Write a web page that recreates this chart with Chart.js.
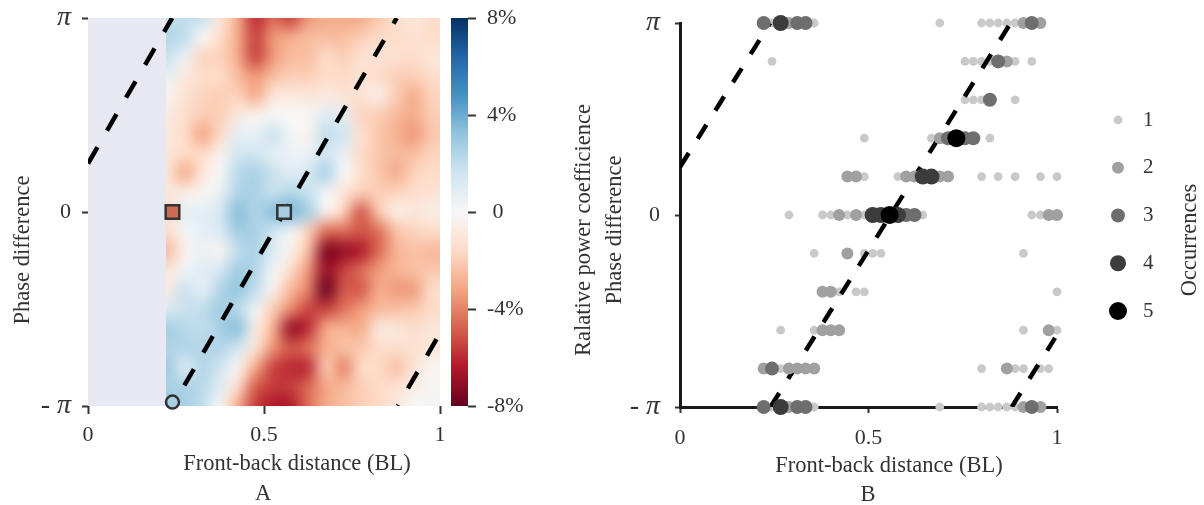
<!DOCTYPE html>
<html>
<head>
  <meta charset="UTF-8" />
  <title>Phase difference and front-back distance</title>
  <script src="https://cdn.jsdelivr.net/npm/chart.js"></script>
  <style>
    body { margin: 0; background: #fff; }
    #wrap { position: relative; width: 1204px; height: 505px; overflow: hidden; filter: blur(0.5px); }
    canvas { position: absolute; left: 0; top: 0; }
  </style>
</head>
<body>
<div id="wrap">
  <canvas id="heat" width="1204" height="505"></canvas>
  <canvas id="bar" width="1204" height="505"></canvas>
  <canvas id="dots" width="1204" height="505"></canvas>
  <canvas id="key" width="1204" height="505"></canvas>
</div>
<script>
// heatmap, rows from +pi to -pi (phase in units of pi)
const heatX = [0.225, 0.275, 0.325, 0.375, 0.425, 0.475, 0.525, 0.575, 0.625, 0.675, 0.725, 0.775, 0.825, 0.875, 0.925, 0.975];
const heatPhase = [1, 0.9, 0.8, 0.7, 0.6, 0.5, 0.4, 0.3, 0.2, 0.1, 0, -0.1, -0.2, -0.3, -0.4, -0.5, -0.6, -0.7, -0.8, -0.9, -1];
const heatValues = [
  [2, 2, 1.8, -1, -3, -6, -4.5, -5.5, -3.5, -3, -3, -3, -2.2, -1.5, -1, -1.5],
  [2.4, 2, 0, -1.5, -3, -5.5, -3.5, -3, -2.5, -2.5, -2.5, -2, -1.5, -1.5, -1.2, -1.5],
  [1.8, 0.5, -1.8, -1.8, -3, -5.5, -3.5, -2.5, -2.5, -1.5, -2, -1.2, -1.2, -1.2, -1.5, -1],
  [0.6, -0.8, -1.5, -1.5, -2.5, -3.5, -2.5, -2, -2, -1.5, -1.6, -1.2, -1.5, -2, -2, -1.5],
  [-0.3, -1.2, -1.8, -2, -1.8, -3, -1, -0.8, -1, -0.8, -1.2, -1.2, -0.5, -2, -3, -1.8],
  [-0.8, -1.4, -2, -2, -0.8, -0.3, -0.1, 0, -0.1, 1, 0.8, -1.8, -2, -2.6, -3, -2],
  [-1, -1.5, -3.2, -1.6, 0.8, 0.6, 1.8, 0.2, -0.3, 2, 1.6, -1.2, -2.2, -2.8, -3.5, -2.2],
  [-1, -1.6, -1.6, -0.4, 1.5, 1.6, 0.8, 0.5, 0.5, 1.6, 0.6, -1.6, -2.2, -2.6, -2.5, -1.8],
  [-1, -3, -1, 0, 2.2, 2.6, 1.8, 1, 1.4, 2.6, 0, -1.4, -2.2, -3, -1.8, -1.5],
  [-1, -0.5, -0.2, 0.6, 2.4, 2.6, 1.8, 2.4, 1.8, 0.3, -1, -2, -2, -1.8, -1.5, -1.2],
  [-1.5, 0.8, 0.8, 1.4, 3.4, 2.4, 3.4, 3.6, 2.8, -0.3, -1.8, -5, -2.2, -0.4, -1, -0.6],
  [-1.5, 0.2, 0.8, 1.2, 2.8, 2.6, 1.6, 0.4, -1.8, -4.5, -4.5, -5, -4.5, -2.4, -1.8, -1.6],
  [-2.6, -0.4, 0.6, -0.2, 2, 2.6, 1.2, -0.3, -2.4, -7.5, -7, -6.5, -4.6, -2.8, -2.4, -2.6],
  [-1, 0.3, 1, 1.4, 2.8, 2.4, 0.3, -1.4, -3.5, -7, -5.5, -4.5, -3.4, -2.8, -2.4, -2.2],
  [-0.8, 1.8, 0.6, 2.4, 3.2, 2, -0.3, -2.6, -4, -8, -5, -5, -3, -3.4, -3.4, -1.4],
  [1.2, 1.8, 2, 2.8, 2.2, 0.4, -2, -3.8, -5.4, -5.5, -4.4, -3.4, -2.6, -2.4, -2.2, -1.6],
  [2.8, 2.2, 2, 2.6, 3.4, -0.6, -2.8, -7, -6, -3, -2.8, -3, -0.8, -1, -1.4, -1],
  [2.4, 2.4, 2.4, 2.4, 1.6, -1, -3.6, -5, -4.4, -3, -2.4, -2.2, -1.5, -1.4, -1.2, -1],
  [3, 1, 2.4, 1.6, -0.2, -3, -5.4, -6, -6, -2, -4, -1.6, -1.6, -2.4, -1.2, -0.2],
  [2.6, 2.6, 2.2, 1, -1.4, -4.8, -5.6, -5.6, -4.6, -3.2, -2.6, -2, -1.6, -1.2, -0.6, -0.2],
  [3, 2.6, 2, 0, -3, -5.6, -6.5, -6.5, -4.5, -3, -2.5, -2, -1.6, -1, 0, 0.3]
];
const noDataEnd = 0.222;

// colour scale of the bar, from -8% to 8%
const barValues = [-8, -6.4, -4.8, -3.2, -1.6, 0, 1.6, 3.2, 4.8, 6.4, 8];
const barColors = ['#67001f', '#b2182b', '#d6604d', '#f4a582', '#fddbc7', '#f7f7f7', '#d1e5f0', '#92c5de', '#4393c3', '#2166ac', '#053061'];

// dashed lines, phase in units of pi
const lineLeftX = [0, 0.239], lineLeftY = [0.25, 1];
const lineMidX = [0.24, 0.877], lineMidY = [-1, 1];
const lineRightX = [0.88, 0.995], lineRightY = [-1, -0.64];

// marked cases in panel A: [x, phase]
const redSquare = [[0.24, 0]];
const blueSquare = [[0.557, 0]];
const blueCircle = [[0.24, -0.98]];

// panel B, [x, phase] per number of occurrences
const occ1 = [
  [0.244,1],[0.356,1],[0.689,1],[0.8,1],[0.822,1],[0.844,1],[0.867,1],[0.889,1],
  [0.244,0.8],[0.756,0.8],[0.778,0.8],[0.8,0.8],[0.822,0.8],[0.889,0.8],[0.933,0.8],
  [0.756,0.6],[0.778,0.6],[0.8,0.6],[0.889,0.6],
  [0.489,0.4],[0.667,0.4],[0.822,0.4],
  [0.489,0.2],[0.578,0.2],[0.8,0.2],[0.844,0.2],[0.889,0.2],[0.956,0.2],[1,0.2],
  [0.289,0],[0.378,0],[0.4,0],[0.444,0],[0.489,0],[0.644,0],[0.933,0],[0.956,0],
  [0.356,-0.2],[0.489,-0.2],[0.511,-0.2],[0.533,-0.2],[0.911,-0.2],
  [0.422,-0.4],[0.467,-0.4],[0.489,-0.4],[1,-0.4],
  [0.267,-0.6],[0.356,-0.6],[0.911,-0.6],[1,-0.6],
  [0.267,-0.8],[0.8,-0.8],[0.889,-0.8],[0.911,-0.8],[0.956,-0.8],[0.978,-0.8],
  [0.244,-1],[0.356,-1],[0.689,-1],[0.8,-1],[0.822,-1],[0.844,-1],[0.867,-1],[0.889,-1]
];
const occ2 = [
  [0.289,1],[0.911,1],[0.956,1],
  [0.867,0.8],
  [0.689,0.4],
  [0.444,0.2],[0.467,0.2],[0.6,0.2],[0.622,0.2],[0.689,0.2],[0.711,0.2],
  [0.422,0],[0.467,0],[0.978,0],[1,0],
  [0.444,-0.2],
  [0.378,-0.4],[0.4,-0.4],
  [0.378,-0.6],[0.4,-0.6],[0.422,-0.6],[0.978,-0.6],
  [0.222,-0.8],[0.289,-0.8],[0.311,-0.8],[0.333,-0.8],[0.356,-0.8],[0.867,-0.8],
  [0.289,-1],[0.911,-1],[0.956,-1]
];
const occ3 = [
  [0.222,1],[0.311,1],[0.333,1],[0.933,1],
  [0.844,0.8],
  [0.822,0.6],
  [0.711,0.4],[0.756,0.4],[0.778,0.4],
  [0.6,0],[0.622,0],
  [0.244,-0.8],
  [0.222,-1],[0.311,-1],[0.333,-1],[0.933,-1]
];
const occ4 = [[0.267,1],[0.644,0.2],[0.667,0.2],[0.511,0],[0.533,0],[0.578,0],[0.267,-1]];
const occ5 = [[0.733,0.4],[0.556,0]];

const occLabels = [1, 2, 3, 4, 5];
const occColors = ['#c9c9c9', '#a0a0a0', '#6e6e6e', '#3c3c3c', '#000000'];
const occRadius = [4.4, 6, 7, 8, 9];

const phaseTicks = { '-1': '- π', '0': '0', '1': 'π' };

const serif = '"Liberation Serif", serif';
const textColor = '#333';

function pts(xs, ys) { return xs.map((x, i) => ({ x: x, y: ys[i] })); }
function pairs(list) { return list.map(p => ({ x: p[0], y: p[1] })); }

function phaseFont(ctx) {
  if (ctx.tick && ctx.tick.value !== 0) return { family: serif, size: 28, style: 'italic' };
  return { family: serif, size: 22 };
}

// axis captions and panel letters sit off-centre in the reference, so they are placed by hand
const freeText = {
  id: 'freeText',
  afterDraw(chart, args, opts) {
    const c = chart.ctx;
    (opts.items || []).forEach(t => {
      c.save();
      c.translate(t.x, t.y);
      if (t.up) c.rotate(-Math.PI / 2);
      c.font = '22.5px ' + serif;
      c.fillStyle = textColor;
      c.textAlign = 'center';
      c.textBaseline = 'middle';
      c.fillText(t.text, 0, 0);
      c.restore();
    });
  }
};

function barColor(v) {
  const t = Math.max(0, Math.min(barValues.length - 1.0001, (v + 8) / 1.6));
  const i = Math.floor(t), f = t - i;
  const a = barColors[i], b = barColors[i + 1];
  return [1, 3, 5].map(p => {
    const from = parseInt(a.substr(p, 2), 16), to = parseInt(b.substr(p, 2), 16);
    return Math.round(from + (to - from) * f);
  });
}

const heatLayer = {
  id: 'heatLayer',
  beforeDatasetsDraw(chart) {
    const c = chart.ctx, xs = chart.scales.x, ys = chart.scales.y, area = chart.chartArea;
    const rows = heatPhase.length, cols = heatX.length;
    const off = document.createElement('canvas');
    off.width = cols;
    off.height = rows;
    const octx = off.getContext('2d');
    const img = octx.createImageData(cols, rows);
    heatValues.forEach((row, r) => row.forEach((v, k) => {
      const rgb = barColor(v), o = (r * cols + k) * 4;
      img.data[o] = rgb[0];
      img.data[o + 1] = rgb[1];
      img.data[o + 2] = rgb[2];
      img.data[o + 3] = 255;
    }));
    octx.putImageData(img, 0, 0);

    const dx = (heatX[1] - heatX[0]) / 2, dy = (heatPhase[0] - heatPhase[1]) / 2;
    const left = xs.getPixelForValue(heatX[0] - dx), right = xs.getPixelForValue(heatX[cols - 1] + dx);
    const top = ys.getPixelForValue(heatPhase[0] + dy), bottom = ys.getPixelForValue(heatPhase[rows - 1] - dy);
    const edge = xs.getPixelForValue(noDataEnd);

    c.save();
    c.fillStyle = '#e8e8f3';
    c.fillRect(area.left, area.top, edge - area.left, area.bottom - area.top);
    c.beginPath();
    c.rect(edge, area.top, area.right - edge, area.bottom - area.top);
    c.clip();
    c.imageSmoothingEnabled = true;
    c.imageSmoothingQuality = 'high';
    // sharp copy first so the soft one does not fade out at the edges
    c.drawImage(off, left, top, right - left, bottom - top);
    c.filter = 'blur(3px)';
    c.drawImage(off, left, top, right - left, bottom - top);
    c.restore();
  }
};

const barLayer = {
  id: 'barLayer',
  beforeDatasetsDraw(chart) {
    const c = chart.ctx, ys = chart.scales.y, area = chart.chartArea;
    const g = c.createLinearGradient(0, ys.getPixelForValue(-8), 0, ys.getPixelForValue(8));
    barValues.forEach((v, i) => g.addColorStop((v + 8) / 16, barColors[i]));
    c.fillStyle = g;
    c.fillRect(area.left, area.top, area.right - area.left, area.bottom - area.top);
  }
};

function dashed(xs, ys, dash, offset, order) {
  return {
    data: pts(xs, ys), showLine: true, pointRadius: 0, borderColor: '#000', borderWidth: 4.5,
    borderDash: dash, borderDashOffset: offset, borderCapStyle: 'butt', order: order
  };
}
function marker(list, style, radius, fill) {
  return {
    data: pairs(list), pointStyle: style, pointRadius: radius, pointBackgroundColor: fill,
    pointBorderColor: '#333', pointBorderWidth: 2.5, clip: false, order: 0
  };
}

function xAxis(height, tickLen, pad) {
  return {
    type: 'linear', min: 0, max: 1,
    afterFit: s => { s.height = height; s.paddingLeft = 0; s.paddingRight = 0; },
    border: { display: false },
    grid: { drawOnChartArea: false, tickLength: tickLen, tickWidth: 2, tickColor: '#333' },
    ticks: {
      stepSize: 0.5, color: textColor, padding: pad, maxRotation: 0,
      font: { family: serif, size: 22 },
      callback: v => String(v)
    }
  };
}
function yAxis(width, tickLen, pad) {
  return {
    type: 'linear', min: -1, max: 1,
    afterFit: s => { s.width = width; s.paddingTop = 0; s.paddingBottom = 0; },
    border: { display: false },
    grid: { drawOnChartArea: false, tickLength: tickLen, tickWidth: 2, tickColor: '#333' },
    ticks: {
      stepSize: 1, color: textColor, padding: pad, font: phaseFont,
      callback: v => phaseTicks[String(v)]
    }
  };
}

new Chart(document.getElementById('heat'), {
  type: 'scatter',
  data: {
    datasets: [
      dashed(lineLeftX, lineLeftY, [19, 19], 0, 1),
      dashed(lineMidX, lineMidY, [19, 19], 14.3, 1),
      dashed(lineRightX, lineRightY, [19, 19], 17.7, 1),
      marker(redSquare, 'rect', 9.6, '#cf6a53'),
      marker(blueSquare, 'rect', 9.6, '#a9cde2'),
      marker(blueCircle, 'circle', 6.5, '#a9cfe3')
    ]
  },
  options: {
    responsive: false, animation: false, events: [],
    layout: { padding: { left: 0, top: 18, right: 1204 - 440, bottom: 0 } },
    scales: { x: xAxis(505 - 406, 8, 8), y: yAxis(88, 6, 11) },
    plugins: {
      legend: { display: false }, tooltip: { enabled: false },
      freeText: { items: [
        { text: 'Phase difference', x: 23, y: 250, up: true },
        { text: 'Front-back distance (BL)', x: 297, y: 464 },
        { text: 'A', x: 263, y: 494 }
      ] }
    }
  },
  plugins: [heatLayer, freeText]
});

new Chart(document.getElementById('bar'), {
  type: 'scatter',
  data: { datasets: [] },
  options: {
    responsive: false, animation: false, events: [],
    layout: { padding: { left: 451, top: 18, right: 0, bottom: 505 - 406 } },
    scales: {
      x: { display: false, min: 0, max: 1 },
      y: {
        type: 'linear', position: 'right', min: -8, max: 8,
        afterFit: s => { s.width = 1204 - 468; s.paddingTop = 0; s.paddingBottom = 0; },
        border: { display: false },
        grid: { drawOnChartArea: false, tickLength: 8, tickWidth: 2, tickColor: '#333' },
        ticks: {
          stepSize: 4, color: textColor, padding: 11, crossAlign: 'near',
          font: { family: serif, size: 22 },
          callback: v => v === 0 ? ' 0' : v + '%'
        }
      }
    },
    plugins: { legend: { display: false }, tooltip: { enabled: false } }
  },
  plugins: [barLayer]
});

function occSet(list, i, order) {
  return {
    data: pairs(list), pointRadius: occRadius[i], pointBackgroundColor: occColors[i],
    pointBorderWidth: 0, clip: false, order: order
  };
}
const yB = yAxis(680, 5, 15);
yB.border = { display: true, color: '#1a1a1a', width: 3 };
const xB = xAxis(505 - 407, 6, 12);
xB.border = { display: true, color: '#1a1a1a', width: 3 };

new Chart(document.getElementById('dots'), {
  type: 'scatter',
  data: {
    datasets: [
      occSet(occ1, 0, 6),
      dashed(lineLeftX, lineLeftY, [16.5, 16.8], 0, 5),
      dashed(lineMidX, lineMidY, [16.5, 16.8], 0, 5),
      dashed(lineRightX, lineRightY, [16.5, 16.8], 0, 5),
      occSet(occ2, 1, 4),
      occSet(occ3, 2, 3),
      occSet(occ4, 3, 2),
      occSet(occ5, 4, 1)
    ]
  },
  options: {
    responsive: false, animation: false, events: [],
    layout: { padding: { left: 0, top: 23, right: 1204 - 1057, bottom: 0 } },
    scales: { x: xB, y: yB },
    plugins: {
      legend: { display: false }, tooltip: { enabled: false },
      freeText: { items: [
        { text: 'Ralative power coefficience', x: 584, y: 230, up: true },
        { text: 'Phase difference', x: 615, y: 230, up: true },
        { text: 'Front-back distance (BL)', x: 889, y: 466 },
        { text: 'B', x: 868, y: 495 }
      ] }
    }
  },
  plugins: [freeText]
});

new Chart(document.getElementById('key'), {
  type: 'scatter',
  data: {
    datasets: occLabels.map((n, i) => ({
      data: [{ x: 0.5, y: n }], pointRadius: occRadius[i], pointBackgroundColor: occColors[i],
      pointBorderWidth: 0, clip: false
    }))
  },
  options: {
    responsive: false, animation: false, events: [],
    layout: { padding: { left: 1104, top: 120, right: 0, bottom: 505 - 311 } },
    scales: {
      x: { display: false, min: 0, max: 1 },
      y: {
        type: 'linear', position: 'right', min: 1, max: 5, reverse: true,
        afterFit: s => { s.width = 1204 - 1132; s.paddingTop = 0; s.paddingBottom = 0; },
        border: { display: false },
        grid: { display: false },
        ticks: {
          stepSize: 1, color: textColor, padding: 3, crossAlign: 'near',
          font: { family: serif, size: 21 }
        }
      }
    },
    plugins: {
      legend: { display: false }, tooltip: { enabled: false },
      freeText: { items: [{ text: 'Occurrences', x: 1190, y: 240, up: true }] }
    }
  },
  plugins: [freeText]
});
</script>
</body>
</html>
